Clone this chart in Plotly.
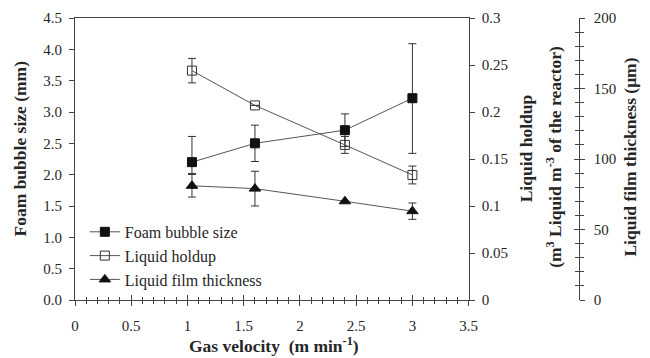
import plotly.graph_objects as go

# Gas velocity (m/min) at which each measurement was taken
gas_velocity = [1.04, 1.6, 2.4, 3.0]

# Foam bubble size (mm) with asymmetric error bars
bubble_size = [2.2, 2.5, 2.71, 3.22]
bubble_err_plus = [0.41, 0.29, 0.26, 0.87]
bubble_err_minus = [0.18, 0.29, 0.26, 0.88]

# Liquid holdup (m3 liquid / m3 reactor)
holdup = [0.244, 0.207, 0.165, 0.133]
holdup_err = [0.013, 0.0, 0.009, 0.0095]

# Liquid film thickness (um)
film = [81, 79, 70, 63]
film_err = [8, 12.3, 0, 5.8]

x_ticks = [0, 0.5, 1, 1.5, 2, 2.5, 3, 3.5]
x_ticklabels = ["0", "0.5", "1", "1.5", "2", "2.5", "3", "3.5"]
y1_ticks = [0, 0.5, 1.0, 1.5, 2.0, 2.5, 3.0, 3.5, 4.0, 4.5]
y1_ticklabels = ["0.0", "0.5", "1.0", "1.5", "2.0", "2.5", "3.0", "3.5", "4.0", "4.5"]
y2_ticks = [0, 0.05, 0.1, 0.15, 0.2, 0.25, 0.3]
y2_ticklabels = ["0", "0.05", "0.1", "0.15", "0.2", "0.25", "0.3"]
y3_ticks = [0, 50, 100, 150, 200]

W, H = 650, 358
ML, MR, MT, MB = 75, 10, 15, 58
PW = W - ML - MR
PH = H - MT - MB


def px(xpix):
    return (xpix - ML) / PW


def py(ypix):
    return (H - MB - ypix) / PH


FONT = "Liberation Serif"
LINE = "#555555"
ERR = "#333333"
TEXT = "#262626"

fig = go.Figure()

fig.add_trace(go.Scatter(
    x=gas_velocity, y=bubble_size, name="Foam bubble size",
    mode="lines+markers", yaxis="y",
    line=dict(color=LINE, width=1),
    marker=dict(symbol="square", size=9, color="#111111",
                line=dict(color="#111111", width=1)),
    error_y=dict(type="data", array=bubble_err_plus, arrayminus=bubble_err_minus,
                 symmetric=False, color=ERR, thickness=1, width=4),
))

fig.add_trace(go.Scatter(
    x=gas_velocity, y=holdup, name="Liquid holdup",
    mode="lines+markers", yaxis="y2",
    line=dict(color=LINE, width=1),
    marker=dict(symbol="square-open", size=9, color="#333333",
                line=dict(color="#333333", width=1)),
    error_y=dict(type="data", array=holdup_err, color=ERR, thickness=1, width=4),
))

fig.add_trace(go.Scatter(
    x=gas_velocity, y=film, name="Liquid film thickness",
    mode="lines+markers", yaxis="y3",
    line=dict(color=LINE, width=1),
    marker=dict(symbol="triangle-up", size=10, color="#111111",
                line=dict(color="#111111", width=1)),
    error_y=dict(type="data", array=film_err, color=ERR, thickness=1, width=4),
))

axis_font = dict(family=FONT, size=15, color=TEXT)
x_end = 400 / PW

fig.update_layout(
    width=W, height=H,
    margin=dict(l=ML, r=MR, t=MT, b=MB),
    paper_bgcolor="white", plot_bgcolor="white",
    font=dict(family=FONT, size=15, color=TEXT),
    showlegend=True,
    legend=dict(x=px(85), y=py(214), xanchor="left", yanchor="top",
                bgcolor="rgba(0,0,0,0)", font=dict(family=FONT, size=16, color=TEXT),
                tracegroupgap=0, itemwidth=30),
    xaxis=dict(
        domain=[0, x_end], range=[0, 3.5],
        tickvals=x_ticks, ticktext=x_ticklabels,
        ticks="outside", ticklen=5, tickcolor="#444444", tickwidth=1,
        minor=dict(dtick=0.1, tick0=0, ticks="outside", ticklen=3, tickcolor="#444444"),
        showline=True, linecolor="#444444", linewidth=1, mirror=True,
        showgrid=False, zeroline=False, tickfont=axis_font,
        ticklabelstandoff=7,
    ),
    xaxis2=dict(
        domain=[0, x_end], range=[0, 3.5], overlaying="x", anchor="y",
        tickvals=x_ticks, showticklabels=False,
        ticks="inside", ticklen=5, tickcolor="#444444",
        minor=dict(dtick=0.1, tick0=0, ticks="inside", ticklen=3, tickcolor="#444444"),
        showline=False, showgrid=False, zeroline=False,
    ),
    yaxis=dict(
        range=[0, 4.5], tickvals=y1_ticks, ticktext=y1_ticklabels,
        ticks="outside", ticklen=5, tickcolor="#444444",
        showline=True, linecolor="#444444", linewidth=1,
        showgrid=False, zeroline=False, tickfont=axis_font,
        ticklabelstandoff=4,
    ),
    yaxis2=dict(
        range=[0, 0.3], tickvals=y2_ticks, ticktext=y2_ticklabels,
        overlaying="y", side="right", anchor="x",
        ticks="outside", ticklen=5, tickcolor="#444444",
        showline=True, linecolor="#444444", linewidth=1,
        showgrid=False, zeroline=False, tickfont=axis_font,
        ticklabelstandoff=4,
    ),
    yaxis3=dict(
        range=[0, 200], tickvals=y3_ticks,
        overlaying="y", side="right", anchor="free", position=px(587),
        ticks="outside", ticklen=5, tickcolor="#444444",
        minor=dict(dtick=10, ticks="outside", ticklen=4, tickcolor="#444444"),
        showline=True, linecolor="#444444", linewidth=1,
        showgrid=False, zeroline=False, tickfont=axis_font,
        ticklabelstandoff=6,
    ),
    yaxis4=dict(
        range=[0, 200], tickvals=y3_ticks, showticklabels=False,
        overlaying="y", side="right", anchor="free", position=px(587),
        ticks="inside", ticklen=5, tickcolor="#444444",
        minor=dict(dtick=10, ticks="inside", ticklen=4, tickcolor="#444444"),
        showline=False, showgrid=False, zeroline=False,
    ),
)

# invisible trace so the helper axes are rendered
fig.add_trace(go.Scatter(x=[None], y=[None], xaxis="x2", yaxis="y4",
                         showlegend=False, hoverinfo="skip"))

title_font = dict(family=FONT, size=17.5, color=TEXT)


def title(text, xpix, ypix, angle=-90):
    fig.add_annotation(text=text, x=px(xpix), y=py(ypix),
                       xref="paper", yref="paper", xanchor="center", yanchor="middle",
                       textangle=angle, showarrow=False, font=title_font)


title("<b>Foam bubble size (mm)</b>", 19, 147)
title("<b>Gas velocity  (m min<sup>-1</sup>)</b>", 277, 345, angle=0)
title("<b>Liquid holdup</b>", 533, 147)
title("<b>(m<sup>3</sup> Liquid m<sup>-3</sup> of the reactor)</b>", 561, 155)
title("<b>Liquid film thickness (\u03bcm)</b>", 638, 156)

fig.write_html("out.html")
